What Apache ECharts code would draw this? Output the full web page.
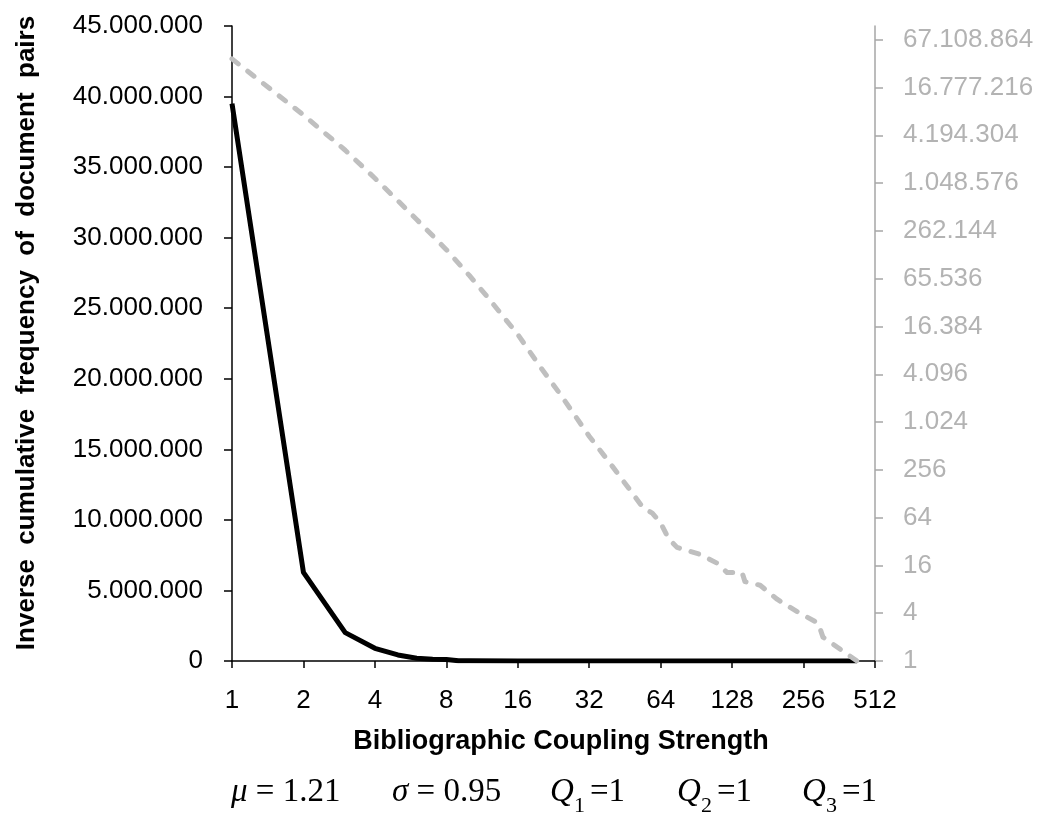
<!DOCTYPE html>
<html>
<head>
<meta charset="utf-8">
<script src="https://cdn.jsdelivr.net/npm/echarts@6/dist/echarts.min.js"></script>
<style>
html,body{margin:0;padding:0;background:#fff;}
#chart{width:1043px;height:813px;}
</style>
</head>
<body>
<div id="chart"></div>
<script>
// ---- data ----
const xTickValues = [1, 2, 4, 8, 16, 32, 64, 128, 256, 512];
const rightTickValues = [1, 4, 16, 64, 256, 1024, 4096, 16384, 65536, 262144, 1048576, 4194304, 16777216, 67108864];

// black line: inverse cumulative frequency, linear left axis
const strengthLinear = [1, 2, 3, 4, 5, 6, 7, 8, 9, 10, 16, 430];
const pairsLinear = [39500000, 6280000, 2010000, 900000, 430000, 200000, 120000, 110000, 20000, 10000, 3000, 0];

// grey dashed line: same quantity on log (base 4) right axis
const strengthLog = [1, 2, 3, 4, 5, 6, 7, 8, 10, 12, 16, 20, 24, 32, 40, 48, 54, 59, 64, 69, 75, 94, 111, 122, 141, 145, 168, 198, 218, 247, 295, 309, 430];
const pairsLog = [38500000, 7570000, 2720000, 1208000, 629000, 365000, 229000, 152000, 72000, 37600, 13000, 4970, 2360, 679, 285, 137, 85, 73, 55, 35, 27, 22, 17, 13, 13, 10, 9, 6, 5, 4, 3, 2, 1];

const statsItems = ['μ = 1.21', 'σ = 0.95', 'Q1 =1', 'Q2 =1', 'Q3 =1'];

// ---- helpers ----
function dotThousands(v) {
  return Math.round(v).toString().replace(/\B(?=(\d{3})+(?!\d))/g, '.');
}
function pairs(xs, ys) { return xs.map((x, i) => [x, ys[i]]); }

const SANS = '"Liberation Sans", Arial, sans-serif';
const SERIF = '"Liberation Serif", "Times New Roman", serif';

const chart = echarts.init(document.getElementById('chart'), null, {renderer: 'canvas'});

function qGroup(left, right, sub) {
  return [
    {type: 'text', x: left, y: 792, style: {text: 'Q', fontFamily: SERIF, fontStyle: 'italic', fontSize: 33, fill: '#000', textAlign: 'left', align: 'left', textVerticalAlign: 'middle', verticalAlign: 'middle'}},
    {type: 'text', x: left + 24, y: 806, style: {text: sub, fontFamily: SERIF, fontSize: 22, fill: '#000', textAlign: 'left', align: 'left', textVerticalAlign: 'middle', verticalAlign: 'middle'}},
    {type: 'text', x: right, y: 792, style: {text: '=1', fontFamily: SERIF, fontSize: 33, fill: '#000', textAlign: 'right', align: 'right', textVerticalAlign: 'middle', verticalAlign: 'middle'}}
  ];
}
function greekItem(left, s) {
  const g = s.charAt(0), rest = s.slice(1);
  return {type: 'text', x: left, y: 792, style: {
    text: '{g|' + g + '}{r|' + rest + '}',
    rich: {
      g: {fontFamily: SERIF, fontStyle: 'italic', fontSize: 33, fill: '#000', color: '#000'},
      r: {fontFamily: SERIF, fontSize: 33, fill: '#000', color: '#000'}
    },
    fontFamily: SERIF, fontSize: 33, fill: '#000',
    textAlign: 'left', align: 'left', textVerticalAlign: 'middle', verticalAlign: 'middle'}};
}

const option = {
  animation: false,
  backgroundColor: '#ffffff',
  grid: {left: 232, right: 168, top: 26, bottom: 152, containLabel: false},
  xAxis: {
    type: 'log', logBase: 2, min: 1, max: 512,
    axisLine: {onZero: false, lineStyle: {color: '#000', width: 1.5}},
    axisTick: {show: true, inside: false, length: 7, lineStyle: {color: '#000', width: 1.5}, customValues: xTickValues},
    axisLabel: {customValues: xTickValues, margin: 27, fontFamily: SANS, fontSize: 26, color: '#000',
      formatter: v => String(Math.round(v))},
    splitLine: {show: false},
    minorTick: {show: false}
  },
  yAxis: [
    {
      type: 'value', min: 0, max: 45000000, interval: 5000000, position: 'left',
      axisLine: {show: true, lineStyle: {color: '#000', width: 1.5}},
      axisTick: {show: true, inside: false, length: 8, lineStyle: {color: '#000', width: 1.5}},
      axisLabel: {margin: 29, fontFamily: SANS, fontSize: 26, color: '#000', formatter: v => dotThousands(v)},
      splitLine: {show: false}
    },
    {
      type: 'log', logBase: 4, min: 1, max: 100000000, position: 'right',
      axisLine: {show: true, lineStyle: {color: '#a6a6a6', width: 1.5}},
      axisTick: {show: true, inside: false, length: 8, lineStyle: {color: '#a6a6a6', width: 1.5}, customValues: rightTickValues},
      axisLabel: {customValues: rightTickValues, margin: 28, fontFamily: SANS, fontSize: 26, color: '#b3b3b3',
        formatter: v => dotThousands(v)},
      splitLine: {show: false},
      minorTick: {show: false}
    }
  ],
  series: [
    {
      type: 'line', xAxisIndex: 0, yAxisIndex: 0,
      data: pairs(strengthLinear, pairsLinear),
      showSymbol: false, symbol: 'none', smooth: false,
      lineStyle: {color: '#000', width: 5, join: 'round', cap: 'butt'},
      itemStyle: {color: '#000'},
      z: 3
    },
    {
      type: 'line', xAxisIndex: 0, yAxisIndex: 1,
      data: pairs(strengthLog, pairsLog),
      showSymbol: false, symbol: 'none', smooth: false,
      lineStyle: {color: '#bfbfbf', width: 5, type: [8, 12], cap: 'round', join: 'round'},
      itemStyle: {color: '#bfbfbf'},
      z: 4
    }
  ],
  graphic: [
    {type: 'text', x: 27, y: 333, rotation: Math.PI / 2, style: {
      text: 'Inverse  cumulative  frequency  of  document  pairs',
      fontFamily: SANS, fontWeight: 'bold', fontSize: 26, fill: '#000',
      textAlign: 'center', align: 'center', textVerticalAlign: 'middle', verticalAlign: 'middle'}},
    {type: 'text', x: 561, y: 742, style: {
      text: 'Bibliographic Coupling Strength',
      fontFamily: SANS, fontWeight: 'bold', fontSize: 27, fill: '#000',
      textAlign: 'center', align: 'center', textVerticalAlign: 'middle', verticalAlign: 'middle'}},
    greekItem(231, statsItems[0]),
    greekItem(392, statsItems[1]),
    ...qGroup(550, 625, statsItems[2].charAt(1)),
    ...qGroup(677, 752, statsItems[3].charAt(1)),
    ...qGroup(802, 877, statsItems[4].charAt(1))
  ]
};
chart.setOption(option);
</script>
</body>
</html>
